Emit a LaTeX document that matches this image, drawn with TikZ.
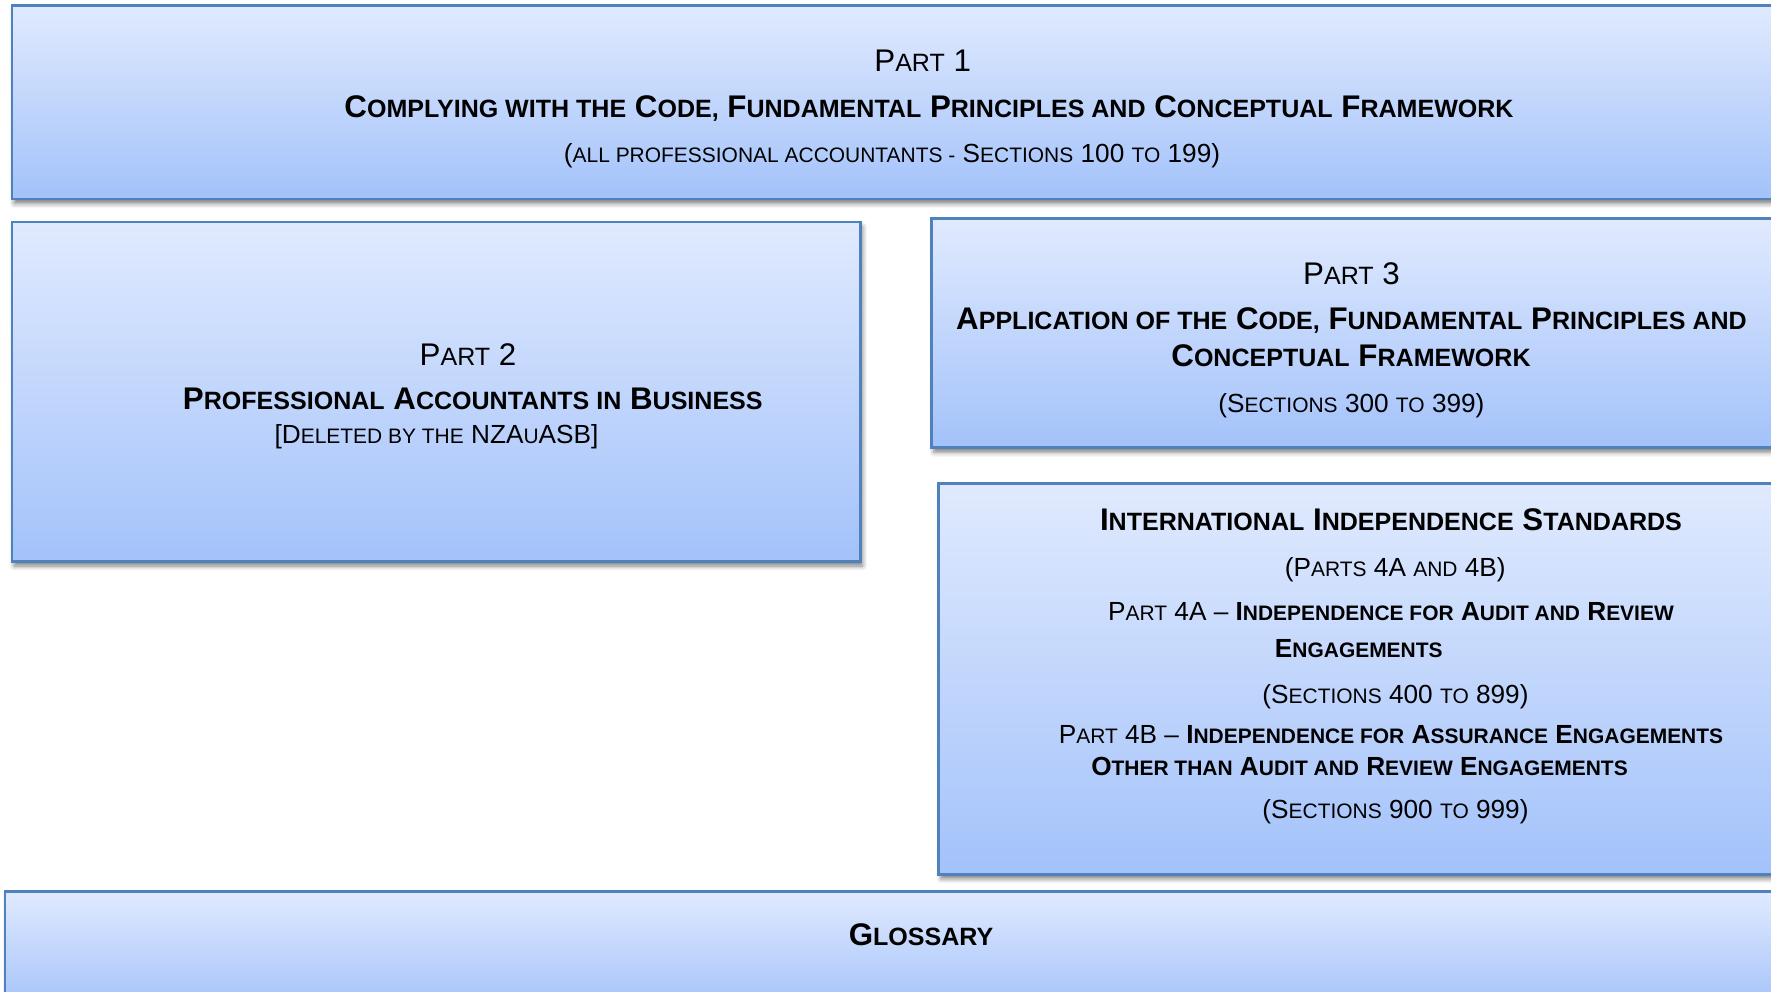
\documentclass[tikz,border=0pt]{standalone}
\usepackage{fontspec}
\setmainfont{Liberation Sans}
\usepackage{graphicx}
\usepackage{tikz}
\usetikzlibrary{shadows.blur}

\definecolor{boxtop}{RGB}{224,234,254}
\definecolor{boxbot}{RGB}{163,194,250}
\definecolor{boxline}{RGB}{79,129,189}
\newcommand{\sm}[1]{\scalebox{0.8}{#1}}

\begin{document}
\begin{tikzpicture}[x=0.01cm,y=-0.01cm,
	partbox/.style={draw=boxline,line width=0.75pt,top color=boxtop,bottom color=boxbot,
		blur shadow={shadow xshift=0.6pt,shadow yshift=-1.3pt,shadow blur radius=1.3pt,shadow opacity=50}},
	bigtxt/.style={font=\fontsize{8.9}{10}\selectfont,anchor=base,inner sep=0pt},
	smalltxt/.style={font=\fontsize{7.45}{9}\selectfont,anchor=base,inner sep=0pt}]
		
		\useasboundingbox (0,0) rectangle (1771,992);
		\clip (0,0) rectangle (1771,992);
		
		\draw[partbox] (12,5.5) rectangle (1835,199);
		\draw[partbox] (12,222) rectangle (860.5,561.5);
		\draw[partbox] (931.7,218.7) rectangle (1790,447.7);
		\draw[partbox] (938.7,483.3) rectangle (1840,874.3);
		\draw[partbox] (5,891.3) rectangle (1840,1010);
		
		\node[bigtxt] (p1) at (922.7,72) {P\sm{ART} 1};
		\node[bigtxt,font=\fontsize{8.9}{10}\selectfont\bfseries] (p1title) at (929,117.5) {C\sm{OMPLYING WITH THE} C\sm{ODE,} F\sm{UNDAMENTAL} P\sm{RINCIPLES AND} C\sm{ONCEPTUAL} F\sm{RAMEWORK}};
		\node[smalltxt] (p1sec) at (892,162.5) {(\sm{ALL PROFESSIONAL ACCOUNTANTS -} S\sm{ECTIONS} 100 \sm{TO} 199)};
		
		\node[bigtxt] (p2) at (468,365.5) {P\sm{ART} 2};
		\node[bigtxt,font=\fontsize{8.9}{10}\selectfont\bfseries] (p2title) at (472.8,409.5) {P\sm{ROFESSIONAL} A\sm{CCOUNTANTS IN} B\sm{USINESS}};
		\node[smalltxt] (p2del) at (436.5,443.5) {[D\sm{ELETED BY THE} NZA\sm{U}ASB]};
		
		\node[bigtxt] (p3) at (1351.5,284.5) {P\sm{ART} 3};
		\node[bigtxt,font=\fontsize{8.9}{10}\selectfont\bfseries] (p3title) at (1351.5,329.5) {A\sm{PPLICATION OF THE} C\sm{ODE,} F\sm{UNDAMENTAL} P\sm{RINCIPLES AND}};
		\node[bigtxt,font=\fontsize{8.9}{10}\selectfont\bfseries] (p3titleb) at (1351,367) {C\sm{ONCEPTUAL} F\sm{RAMEWORK}};
		\node[smalltxt] (p3sec) at (1351.4,412.5) {(S\sm{ECTIONS} 300 \sm{TO} 399)};
		
		\node[bigtxt,font=\fontsize{8.9}{10}\selectfont\bfseries] (iis) at (1391,530.5) {I\sm{NTERNATIONAL} I\sm{NDEPENDENCE} S\sm{TANDARDS}};
		\node[smalltxt] (iisparts) at (1395.3,576.5) {(P\sm{ARTS} 4A \sm{AND} 4B)};
		\node[smalltxt] (p4a) at (1391,620.5) {P\sm{ART} 4A \textendash{} \textbf{I\sm{NDEPENDENCE FOR} A\sm{UDIT AND} R\sm{EVIEW}}};
		\node[smalltxt] (p4ab) at (1358.8,657.5) {\textbf{E\sm{NGAGEMENTS}}};
		\node[smalltxt] (p4asec) at (1395.5,704) {(S\sm{ECTIONS} 400 \sm{TO} 899)};
		\node[smalltxt] (p4b) at (1391,744) {P\sm{ART} 4B \textendash{} \textbf{I\sm{NDEPENDENCE FOR} A\sm{SSURANCE} E\sm{NGAGEMENTS}}};
		\node[smalltxt] (p4bb) at (1359.5,775.5) {\textbf{O\sm{THER THAN} A\sm{UDIT AND} R\sm{EVIEW} E\sm{NGAGEMENTS}}};
		\node[smalltxt] (p4bsec) at (1395.5,818.5) {(S\sm{ECTIONS} 900 \sm{TO} 999)};
		
		\node[bigtxt,font=\fontsize{8.9}{10}\selectfont\bfseries] (gloss) at (921,945.7) {G\sm{LOSSARY}};
		
\end{tikzpicture}
\end{document}
